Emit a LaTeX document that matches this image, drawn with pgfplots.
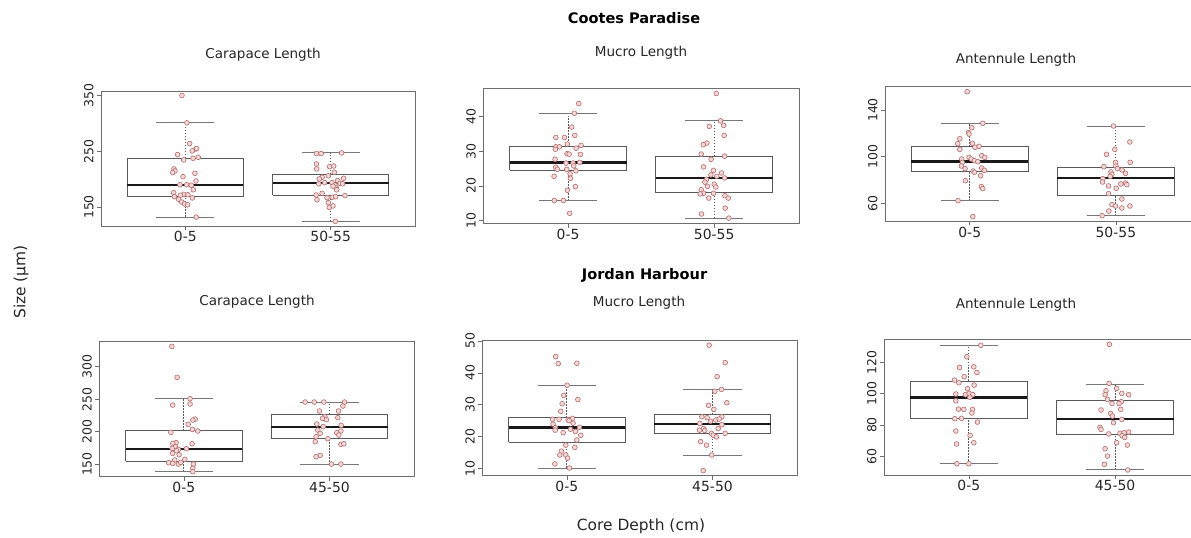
\documentclass[border=0pt]{standalone}
\usepackage{pgfplots}
\pgfplotsset{compat=1.18}
\usepackage{fontspec}
\setmainfont{DejaVu Sans}

\definecolor{framegray}{HTML}{6E6E6E}
\definecolor{boxgray}{HTML}{5A5A5A}
\definecolor{capgray}{HTML}{777777}
\definecolor{ptred}{HTML}{B86C6C}
\definecolor{ptpink}{HTML}{F0D8D8}

\pgfplotsset{
  panel/.style={
    scale only axis,
    anchor=south west,
    xmin=0.42, xmax=2.58,
    xtick={1,2},
    tick pos=left,
    tick align=outside,
    major tick length=4bp,
    tick style={draw=framegray, line width=0.6pt},
    axis line style={draw=framegray, line width=0.9pt},
    /pgf/number format/assume math mode=true,
    xticklabel style={font=\fontsize{14}{16}\selectfont, text=black!85, yshift=2bp},
    yticklabel style={font=\fontsize{12.5}{14}\selectfont, text=black!85, rotate=90, anchor=south},
  },
  boxline/.style={draw=boxgray, line width=1pt, mark=none},
  medline/.style={draw=black!90, line width=2.4pt, mark=none},
  whiskline/.style={draw=boxgray, line width=0.8pt, dash pattern=on 1.6pt off 1.4pt, mark=none},
  capline/.style={draw=capgray, line width=1pt, mark=none},
  pts/.style={only marks, mark=*, mark size=2.4bp,
    mark options={draw=ptred, fill=ptpink, line width=0.6pt}},
}

% box at category 1: lower whisker, lower quartile, median, upper quartile, upper whisker
\newcommand{\boxone}[5]{%
  \addplot[boxline] coordinates {(0.6,#2) (1.4,#2) (1.4,#4) (0.6,#4) (0.6,#2)};
  \addplot[medline] coordinates {(0.6,#3) (1.4,#3)};
  \addplot[whiskline] coordinates {(1,#4) (1,#5)};
  \addplot[whiskline] coordinates {(1,#1) (1,#2)};
  \addplot[capline] coordinates {(0.8,#5) (1.2,#5)};
  \addplot[capline] coordinates {(0.8,#1) (1.2,#1)};
}
% box at category 2
\newcommand{\boxtwo}[5]{%
  \addplot[boxline] coordinates {(1.6,#2) (2.4,#2) (2.4,#4) (1.6,#4) (1.6,#2)};
  \addplot[medline] coordinates {(1.6,#3) (2.4,#3)};
  \addplot[whiskline] coordinates {(2,#4) (2,#5)};
  \addplot[whiskline] coordinates {(2,#1) (2,#2)};
  \addplot[capline] coordinates {(1.8,#5) (2.2,#5)};
  \addplot[capline] coordinates {(1.8,#1) (2.2,#1)};
}

\newcommand{\ttl}{\fontsize{13.6}{16}\selectfont}
\newcommand{\site}{\fontsize{14.6}{17}\selectfont\bfseries}

\begin{document}
\begin{tikzpicture}
\useasboundingbox (0bp,0bp) rectangle (1191bp,538bp);

% ---------------- Cootes Paradise ----------------
\begin{axis}[panel, at={(101bp,312bp)}, width=314bp, height=135bp,
  ymin=116, ymax=358, ytick={150,250,350}, xticklabels={0-5,50-55}]
\boxone{132}{168.5}{189.5}{237.4}{300.8}
\boxtwo{124.3}{171}{193}{208.7}{247}
\addplot[pts] coordinates {
(0.977,350) (1.011,300.9) (1.030,263.8) (1.073,254) (1.048,250.6) (1.078,254.8)
(0.947,244) (1.089,239.2) (1.053,237.4) (0.989,234.4) (0.922,218.3) (0.929,214.7)
(0.913,211.7) (1.066,210.5) (0.984,204.5) (1.073,196.7) (0.963,190) (1.009,190)
(1.041,189) (1.055,181) (0.920,175.7) (0.989,172.8) (0.966,171) (1.018,172)
(0.925,168.6) (1.048,166.3) (0.954,164) (0.975,159) (0.995,155.4) (1.016,154) (1.075,132)};
\addplot[pts] coordinates {
(1.902,245.8) (1.934,245.8) (2.075,247) (1.902,227.2) (1.904,218.3) (1.993,222.4)
(2.021,223.5) (2.025,212.3) (1.941,203.3) (1.984,206) (1.922,200.3) (2.089,201.5)
(2.048,197.6) (1.959,193.7) (1.918,191.6) (2.009,193.7) (2.064,192.6) (2.030,189.4)
(2.082,191.6) (2.039,184.1) (2.016,187.3) (2.041,180.9) (1.900,171.6) (2.098,170.5)
(1.941,174.6) (1.906,163.2) (1.975,166.9) (2.011,167.5) (2.034,168.6) (1.984,157.8)
(1.991,149.4) (2.016,152) (2.032,124.3)};
\end{axis}

\begin{axis}[panel, at={(483.3bp,314.3bp)}, width=315.7bp, height=135.4bp,
  ymin=9.1, ymax=48.2, ytick={10,20,30,40}, xticklabels={0-5,50-55}]
\boxone{15.8}{24.5}{26.8}{31.25}{41.06}
\boxtwo{10.7}{18.1}{22.3}{28.6}{38.9}
\addplot[pts] coordinates {
(1.073,43.8) (1.043,41) (1.025,37) (1.046,34.6) (0.916,34) (0.975,34) (0.995,32.1)
(0.916,31.3) (0.941,31.3) (0.913,30.6) (1.089,31.7) (1.055,30.9) (0.993,29.3)
(1.007,29.2) (1.084,29.1) (0.911,27.7) (0.986,26.6) (1.034,26.6) (1.080,26.8)
(1.039,25.8) (0.916,25.4) (0.927,24.8) (0.991,24.8) (1.053,24.4) (1.014,23.5)
(0.904,22.8) (1.016,22.2) (1.050,19.8) (0.995,18.75) (0.906,15.8) (0.968,15.8) (1.011,12.1)};
\addplot[pts] coordinates {
(2.014,46.7) (2.043,38.8) (1.966,37.2) (2.064,37.5) (2.068,34.6) (1.950,32.4)
(1.925,31.9) (1.911,29.2) (2.071,28.6) (1.979,27.7) (1.927,25.5) (1.995,24.5)
(2.050,23.75) (1.977,23.2) (2.018,22.8) (2.071,22.3) (1.947,21.9) (1.936,21.1)
(2.000,20.5) (1.954,19.9) (2.011,19.7) (1.911,18.9) (1.927,17.9) (1.904,17.7)
(1.995,17.9) (2.073,17.2) (2.096,16.5) (1.963,16.5) (2.075,13.6) (1.913,11.9) (2.100,10.7)};
\end{axis}

\begin{axis}[panel, at={(885bp,316.7bp)}, width=315.6bp, height=134.6bp,
  ymin=44.6, ymax=160, ytick={60,100,140}, xticklabels={0-5,50-55}]
\boxone{62.3}{87.7}{95.7}{108.6}{128.6}
\boxtwo{49.4}{66.3}{81.7}{90.9}{126.3}
\addplot[pts] coordinates {
(0.982,155.7) (1.089,128.6) (1.014,124.9) (0.991,120.6) (0.995,119.4) (0.932,115.4)
(0.918,111.1) (1.018,111.4) (1.036,108) (1.064,108.9) (0.932,106.3) (1.082,100.9)
(1.103,99.4) (0.995,99.4) (1.011,98) (0.945,98) (1.032,96.6) (0.950,95.1) (1.055,95.7)
(0.943,92) (1.082,90.3) (0.968,89.7) (1.100,88.3) (1.023,87.7) (1.032,86.6)
(1.075,83.7) (0.970,79.4) (1.080,74.3) (1.089,72.6) (0.920,62.3) (1.021,48.6)};
\addplot[pts] coordinates {
(1.984,126.3) (2.096,112.6) (1.993,106.3) (1.936,102) (2.098,95.1) (1.998,95.1)
(2.000,92) (1.918,91.4) (2.011,89.7) (2.043,88.6) (1.966,86.9) (1.973,84.9)
(2.066,85.7) (1.961,83.1) (1.911,81.1) (1.909,78.3) (2.034,76.6) (2.066,77.4)
(2.075,76) (1.950,74.9) (2.002,72.9) (1.950,68.3) (2.041,63.7) (1.973,58.9)
(1.998,57.7) (2.096,57.7) (2.041,56) (1.952,53.4) (1.906,49.4)};
\end{axis}

% ---------------- Jordan Harbour ----------------
\begin{axis}[panel, at={(99.3bp,61.3bp)}, width=314.7bp, height=135.7bp,
  ymin=130.5, ymax=339.6, ytick={150,200,250,300}, xticklabels={0-5,45-50}]
\boxone{138.2}{154.6}{173.6}{201.4}{250.7}
\boxtwo{149}{190}{207}{226.5}{245.5}
\addplot[pts] coordinates {
(0.918,331.3) (0.954,283.6) (1.043,250.7) (1.043,242.5) (0.924,240.9) (1.078,219.3)
(1.062,217.8) (1.030,211.1) (1.059,203.4) (1.096,200.9) (0.911,198.8) (0.947,182.9)
(1.057,181.3) (0.924,181.8) (0.941,176.7) (0.920,174.1) (1.018,173.6) (0.963,172.6)
(0.950,170.5) (0.924,166.4) (0.968,164.4) (1.007,157.2) (0.938,156.2) (0.897,152.1)
(0.924,151) (0.963,150) (0.979,152.6) (1.066,150) (1.062,143.3) (1.062,138.2)};
\addplot[pts] coordinates {
(1.833,245.5) (1.895,245.5) (1.961,245.5) (2.103,245.5) (2.092,239.4) (1.931,231.7)
(2.062,231.7) (1.968,222.9) (1.952,220.4) (2.057,221.4) (1.979,218.3) (1.913,211.6)
(1.957,207.5) (2.080,209.6) (1.920,202.4) (2.078,200.9) (2.050,198.3) (2.064,194.7)
(1.936,197.3) (1.908,192.1) (1.989,189) (2.078,180.3) (2.098,181.3) (1.902,184.4)
(1.936,163.4) (1.908,161.3) (2.014,150) (2.078,150)};
\end{axis}

\begin{axis}[panel, at={(482.3bp,62.3bp)}, width=314.7bp, height=135.7bp,
  ymin=7.7, ymax=50.3, ytick={10,20,30,40,50}, xticklabels={0-5,45-50}]
\boxone{10.1}{18.2}{22.8}{25.9}{36.1}
\boxtwo{14.1}{21}{23.9}{26.9}{34.7}
\addplot[pts] coordinates {
(0.924,45.1) (0.941,42.9) (1.069,43) (1.002,36.1) (0.979,32.9) (1.076,31.6)
(0.968,30.3) (0.959,27.9) (0.902,25.4) (0.947,25.4) (1.039,25.7) (1.009,25.3)
(1.043,24.2) (1.016,25) (0.906,23.9) (0.922,22.7) (1.087,22.9) (0.920,22)
(1.025,22.3) (1.059,21.6) (0.975,21.2) (1.096,20.4) (1.069,18.9) (0.993,17.3)
(1.055,16.6) (0.963,15.4) (0.952,14.2) (0.993,14.2) (1.005,13.2) (0.918,11.4) (1.018,10.1)};
\addplot[pts] coordinates {
(1.977,48.7) (2.087,43.2) (2.032,38.8) (2.062,34.8) (2.098,30.6) (2.016,34.2)
(1.973,29.8) (2.009,28.5) (2.064,26.2) (1.927,26.2) (1.963,25.9) (2.023,25.2)
(1.986,24.8) (2.046,25.5) (1.913,24.1) (2.064,23.7) (1.938,22.5) (2.039,22.5)
(1.911,22) (1.947,21.9) (2.087,21) (1.993,21) (2.005,20.4) (2.027,19.9)
(1.918,18.4) (1.959,17.3) (1.995,14.2) (1.936,9.3)};
\end{axis}

\begin{axis}[panel, at={(884bp,63bp)}, width=315.9bp, height=135.3bp,
  ymin=48.1, ymax=134.5, ytick={60,80,100,120}, xticklabels={0-5,45-50}]
\boxone{55.3}{84.3}{97.7}{108.1}{130.9}
\boxtwo{51.3}{73.8}{83.8}{95.5}{106.2}
\addplot[pts] coordinates {
(1.082,130.9) (0.986,123.6) (0.936,116.8) (1.034,117.2) (1.055,113.6) (0.968,110.9)
(0.902,108.7) (0.932,107) (1.036,105.5) (0.991,103.2) (0.911,99.8) (0.977,99.4)
(1.002,100.2) (1.027,99.4) (1.007,97.7) (0.911,95.5) (0.929,90.2) (0.966,90)
(1.025,90) (1.021,87.7) (0.950,84.3) (0.904,84) (1.059,81.9) (0.911,76.2)
(1.009,73.4) (1.034,68.7) (0.916,67.9) (0.918,55.3) (1.000,55.3)};
\addplot[pts] coordinates {
(1.961,131.5) (1.959,106.6) (2.011,103.4) (1.938,101.9) (2.046,100.2) (2.093,99.4)
(1.932,99.4) (1.948,96.4) (2.043,94.9) (1.979,93.8) (2.027,93.8) (1.904,89.6)
(2.039,90) (1.970,87.4) (1.982,85.7) (2.046,83.6) (1.989,81.5) (1.897,78.5)
(1.904,77.2) (1.957,74.3) (2.034,74.7) (2.062,75.1) (2.093,75.5) (2.048,73.2)
(2.066,72.1) (2.011,68.7) (2.084,67.2) (1.932,64.9) (1.948,60.2) (1.927,54.9) (2.087,51.3)};
\end{axis}

% ---------------- titles and shared labels ----------------
\node[text=black] at (634bp,520bp) {\site Cootes Paradise};
\node[text=black] at (644.5bp,263bp) {\site Jordan Harbour};
\node[text=black!85] at (263bp,483bp) {\ttl Carapace Length};
\node[text=black!85] at (641bp,485bp) {\ttl Mucro Length};
\node[text=black!85] at (1016bp,478bp) {\ttl Antennule Length};
\node[text=black!85] at (257bp,236bp) {\ttl Carapace Length};
\node[text=black!85] at (639bp,235bp) {\ttl Mucro Length};
\node[text=black!85] at (1016bp,233bp) {\ttl Antennule Length};
\node[text=black!85, rotate=90] at (21bp,256bp) {\fontsize{15.5}{18}\selectfont Size (µm)};
\node[text=black!85] at (641bp,12bp) {\fontsize{15.5}{18}\selectfont Core Depth (cm)};
\end{tikzpicture}
\end{document}
